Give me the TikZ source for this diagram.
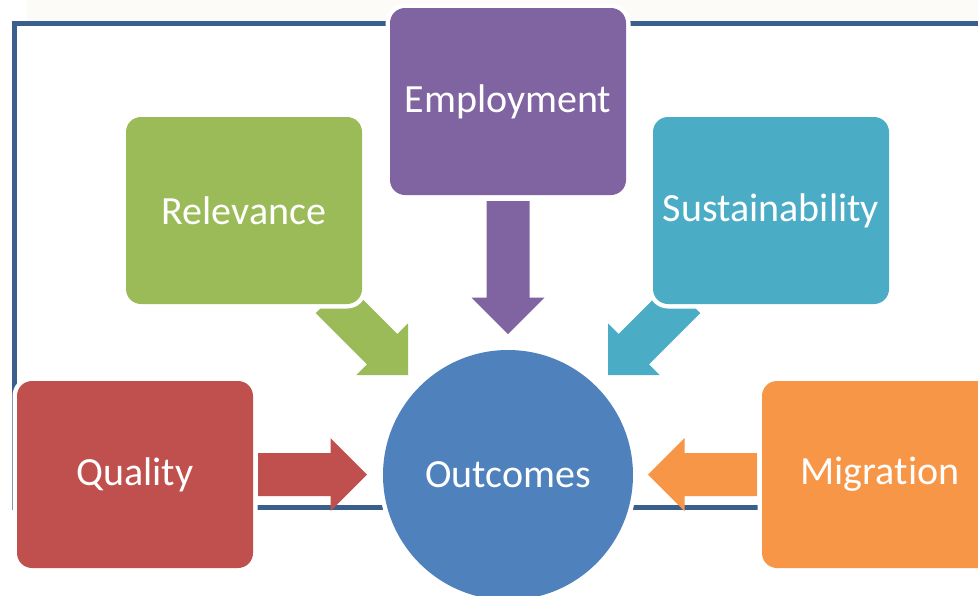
\documentclass[tikz,border=0pt]{standalone}
\usepackage{fontspec}
\setmainfont[Ligatures={NoCommon}]{Carlito}
\definecolor{framec}{HTML}{3A5F8C}
\definecolor{cream}{HTML}{FCFBF8}
\definecolor{cqual}{HTML}{C0504D}
\definecolor{crel}{HTML}{9BBB59}
\definecolor{cemp}{HTML}{8064A2}
\definecolor{csus}{HTML}{4BACC6}
\definecolor{cmig}{HTML}{F79646}
\definecolor{cout}{HTML}{4F81BD}
\tikzset{
  wline/.style={preaction={draw=white,line width=9pt}},
  boxnode/.style={wline, rectangle, rounded corners=15pt, minimum width=236pt, minimum height=187pt,
    inner sep=0pt, text=white, font=\fontsize{40}{48}\selectfont},
  circnode/.style={wline, circle, minimum size=250pt, inner sep=0pt, text=white, font=\fontsize{40}{48}\selectfont},
}
% block arrow: tip coordinate, rotation, total length, colour
\newcommand{\blockarr}[4]{%
  \fill[#4, shift={(#1)}, rotate=#2] (0,0) -- (-36.5,36.5) -- (-36.5,21.5) -- (-#3,21.5)
     -- (-#3,-21.5) -- (-36.5,-21.5) -- (-36.5,-36.5) -- cycle;}
\begin{document}
\begin{tikzpicture}[x=1pt,y=-1pt]
\useasboundingbox (0,0) rectangle (978,595);
\clip (0,0) rectangle (978,595);
\fill[white] (0,0) rectangle (978,595);
\fill[cream] (27,0) rectangle (978,21);
% frame
\draw[framec, line width=5pt] (14,23.5) rectangle (1010,507.5);
% arrow tips
\coordinate (tq) at (367,474.5);
\coordinate (tm) at (648,474.5);
\coordinate (te) at (508,334);
\coordinate (tr) at (408,375);
\coordinate (ts) at (608,375);
\blockarr{tq}{0}{109}{cqual}
\blockarr{tm}{180}{109}{cmig}
\blockarr{te}{-90}{133}{cemp}
\blockarr{tr}{-45}{109}{crel}
\blockarr{ts}{-135}{109}{csus}
% boxes
\node[boxnode, fill=cqual] (qual) at (135,474.5) {Quality};
\node[boxnode, fill=cmig] (mig) at (880,474.5) {Migration};
\node[boxnode, fill=crel] (rel) at (244,210.5) {Relevance};
\node[boxnode, fill=cemp] (emp) at (508,101.5) {Employment};
\node[boxnode, fill=csus] (sus) at (771,210.5) {Sustainability};
\node[circnode, fill=cout] (out) at (508,475) {Outcomes};
\end{tikzpicture}
\end{document}
